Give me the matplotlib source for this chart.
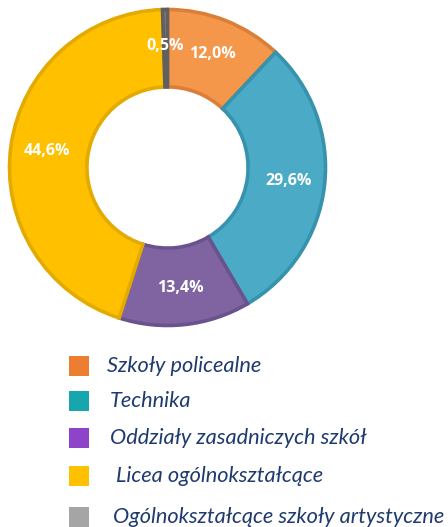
import matplotlib.pyplot as plt
from matplotlib.patches import Rectangle

# data
categories = ['Szkoły policealne', 'Technika', 'Oddziały zasadniczych szkół',
              'Licea ogólnokształcące', 'Ogólnokształcące szkoły artystyczne']
shares = [12.0, 29.6, 13.4, 44.6, 0.5]

# colours (slice fill, slice border, legend square)
fill_colors = ['#F4974A', '#4BAAC5', '#8064A2', '#FFC000', '#7F7F7F']
edge_colors = ['#DB7E38', '#3692AD', '#6A528C', '#E3AA00', '#606060']
legend_colors = ['#ED7D31', '#17A6AE', '#8E44C9', '#FFC000', '#A5A5A5']

W, H = 448, 527
fig = plt.figure(figsize=(W / 100, H / 100), dpi=100)

# donut: centre ~ (167.5, 167.5) px, radius ~ 158 px
cx, cy, R = 167.5, 167.5, 158
ax = fig.add_axes([(cx - R) / W, 1 - (cy + R) / H, 2 * R / W, 2 * R / H])
wedges, _, autotexts = ax.pie(
    shares, colors=fill_colors, startangle=90, counterclock=False,
    wedgeprops=dict(width=0.49, linewidth=2.6),
    autopct=lambda p: f'{p:.1f}%'.replace('.', ','), pctdistance=0.77,
    textprops=dict(color='white', fontsize=11.5, fontweight='bold',
                   family='Open Sans'))
for w, ec in zip(wedges, edge_colors):
    w.set_edgecolor(ec)
ax.set_xlim(-1, 1)
ax.set_ylim(-1, 1)
ax.set_aspect('equal')
ax.axis('off')

# legend laid out by hand (uneven spacing like the original)
legend_y = [366, 401, 438, 476, 517]
text_x = [107, 110, 110, 116, 113]
sq = 20
for name, col, y, tx in zip(categories, legend_colors, legend_y, text_x):
    fig.add_artist(Rectangle((69 / W, 1 - (y + sq / 2) / H), sq / W, sq / H,
                             transform=fig.transFigure, facecolor=col,
                             edgecolor='none'))
    fig.text(tx / W, 1 - y / H, name, ha='left', va='center', fontsize=15.7,
             style='italic', color='#1F3A6E', family='Lato')

fig.savefig('out.png', dpi=100)
